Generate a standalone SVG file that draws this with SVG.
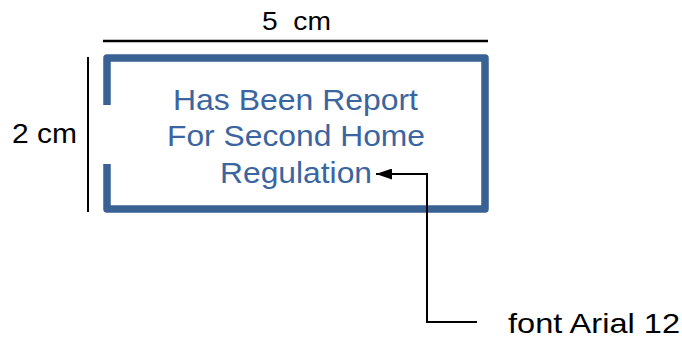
<svg xmlns="http://www.w3.org/2000/svg" width="682" height="342" viewBox="0 0 682 342">
<style>
.dim{stroke:#000;fill:none}
.lbl{font-family:"Liberation Sans",Arial,sans-serif;fill:#000}
.box{fill:none;stroke:#3a6194;stroke-width:7.5;stroke-linejoin:round}
.btxt{font-family:"Liberation Sans",Arial,sans-serif;fill:#3b65a0;font-size:29px}
</style>
<defs>
<marker id="ah" markerWidth="16" markerHeight="11" refX="16" refY="5.5" orient="auto" markerUnits="userSpaceOnUse">
<path d="M0,0 L16,5.5 L0,11 Z" fill="#000"/>
</marker>
</defs>
<g id="dimensions">
<line class="dim" x1="103" y1="41" x2="488" y2="41" stroke-width="2.5"/>
<line class="dim" x1="88" y1="57" x2="88" y2="212" stroke-width="2"/>
<text class="lbl" x="262" y="30" font-size="26" textLength="69" lengthAdjust="spacingAndGlyphs" xml:space="preserve">5  cm</text>
<text class="lbl" x="12" y="143" font-size="27" textLength="65" lengthAdjust="spacingAndGlyphs">2 cm</text>
</g>
<g id="node-box">
<path class="box" d="M107,105 V58 H485 V209 H107 V164"/>
<text class="btxt" x="173" y="110" textLength="245" lengthAdjust="spacingAndGlyphs">Has Been Report</text>
<text class="btxt" x="167" y="146" textLength="258" lengthAdjust="spacingAndGlyphs">For Second Home</text>
<text class="btxt" x="220" y="183" textLength="152" lengthAdjust="spacingAndGlyphs">Regulation</text>
</g>
<g id="node-note">
<text class="lbl" x="508" y="333" font-size="28" textLength="172" lengthAdjust="spacingAndGlyphs">font Arial 12</text>
</g>
<g id="connectors">
<path d="M477,322 H427 V174 H376" fill="none" stroke="#000" stroke-width="2" marker-end="url(#ah)"/>
</g>
</svg>
